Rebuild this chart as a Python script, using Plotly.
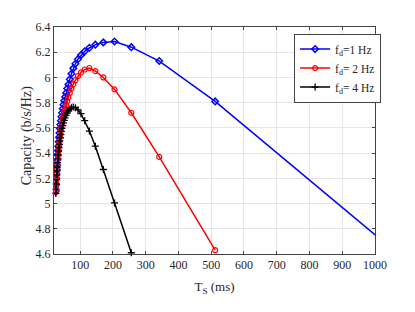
import plotly.graph_objects as go

# T_S values (ms)
ts = [1024, 512, 341.33, 256, 204.8, 170.67, 146.29, 128, 113.78, 102.4,
      93.09, 85.33, 78.77, 73.14, 68.27, 64, 60.24, 56.89, 53.89, 51.2,
      48.76, 46.55, 44.52, 42.67, 40.96, 39.38, 37.93, 36.57, 35.31, 34.13,
      33.03, 32, 31.03, 30.12, 29.26, 28.44, 27.68, 26.95, 26.26, 25.6]

cap_fd1 = [4.70, 5.81, 6.13, 6.24, 6.285, 6.278, 6.26, 6.235, 6.207, 6.177,
           6.145, 6.108, 6.072, 6.03, 5.985, 5.945, 5.912, 5.877, 5.845, 5.815,
           5.783, 5.752, 5.72, 5.688, 5.657, 5.627, 5.595, 5.56, 5.525, 5.49,
           5.455, 5.42, 5.385, 5.345, 5.305, 5.27, 5.235, 5.20, 5.15, 5.10]

cap_fd2 = [None, 4.63, 5.37, 5.72, 5.905, 6.00, 6.05, 6.075, 6.063, 6.04,
           6.01, 5.978, 5.945, 5.912, 5.877, 5.843, 5.812, 5.78, 5.752, 5.725,
           5.695, 5.666, 5.637, 5.61, 5.58, 5.553, 5.525, 5.497, 5.468, 5.44,
           5.41, 5.38, 5.35, 5.315, 5.28, 5.245, 5.21, 5.175, 5.135, 5.09]

cap_fd4 = [None, None, None, 4.61, 5.005, 5.27, 5.455, 5.575, 5.657, 5.713,
           5.743, 5.76, 5.765, 5.76, 5.75, 5.735, 5.718, 5.70, 5.68, 5.66,
           5.64, 5.618, 5.596, 5.572, 5.547, 5.522, 5.497, 5.47, 5.443, 5.415,
           5.385, 5.355, 5.325, 5.29, 5.26, 5.225, 5.19, 5.155, 5.115, 5.08]

names = ["f<sub>d</sub>=1 Hz", "f<sub>d</sub>= 2 Hz", "f<sub>d</sub>= 4 Hz"]

FONT = "Liberation Serif, Times New Roman, serif"

fig = go.Figure()
fig.add_trace(go.Scatter(
    x=ts, y=cap_fd1, mode="lines+markers", name=names[0],
    line=dict(color="#0000ff", width=1.5),
    marker=dict(symbol="diamond-open", size=5, color="#0000ff", line=dict(width=1.5, color="#0000ff")),
    cliponaxis=True))
fig.add_trace(go.Scatter(
    x=ts, y=cap_fd2, mode="lines+markers", name=names[1],
    line=dict(color="#ff0000", width=1.5),
    marker=dict(symbol="circle-open", size=5, color="#ff0000", line=dict(width=1.2, color="#ff0000")),
    cliponaxis=False))
fig.add_trace(go.Scatter(
    x=ts, y=cap_fd4, mode="lines+markers", name=names[2],
    line=dict(color="#000000", width=1.5),
    marker=dict(symbol="cross-thin-open", size=5, color="#000000", line=dict(width=1.3, color="#000000")),
    cliponaxis=False))

axis_common = dict(
    showgrid=True, gridcolor="#e6e6e6", gridwidth=1,
    showline=True, linecolor="#444444", linewidth=1, mirror="ticks",
    ticks="inside", ticklen=3, tickcolor="#444444",
    zeroline=False,
    tickfont=dict(family=FONT, size=12, color="#262626"),
)

fig.update_xaxes(range=[20, 1000], tick0=0, dtick=100,
                 title=dict(text="T<sub>S</sub> (ms)", font=dict(family=FONT, size=13, color="#262626"), standoff=10),
                 **axis_common)
fig.update_yaxes(range=[4.6, 6.4], tick0=4.6, dtick=0.2, tickformat="~g",
                 **axis_common)

fig.add_annotation(text="Capacity (b/s/Hz)", textangle=-90, xref="paper", yref="paper",
                   x=-0.083, y=0.52, xanchor="center", yanchor="middle", showarrow=False,
                   font=dict(family=FONT, size=14, color="#262626"))

fig.update_layout(
    width=407, height=304, autosize=False,
    margin=dict(l=46, r=40, t=16, b=58),
    paper_bgcolor="white", plot_bgcolor="white",
    font=dict(family=FONT, size=12, color="#262626"),
    showlegend=True,
    legend=dict(x=0.748, y=0.971, xanchor="left", yanchor="top",
                bgcolor="white", bordercolor="#444444", borderwidth=1,
                font=dict(family=FONT, size=11.5, color="#262626"),
                itemwidth=30, tracegroupgap=0),
)

fig.write_html("out.html")
